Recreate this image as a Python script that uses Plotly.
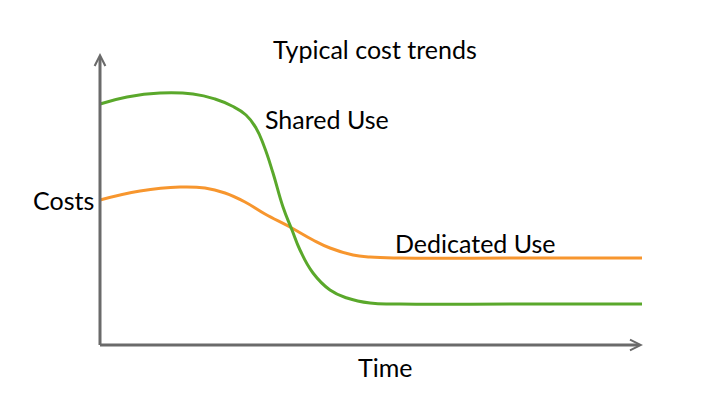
import plotly.graph_objects as go

# Data (arbitrary units: time from axis origin, cost above axis)
time_shared = [0, 27, 60, 93, 115, 132, 146, 156, 164, 173, 183, 192, 200, 213, 230, 247, 270, 300, 420, 542]
cost_shared = [241, 248, 252, 251, 246, 239, 230, 217, 199, 172, 138, 115, 95, 72, 55, 47, 42, 41, 41, 41]

time_dedicated = [0, 40, 80, 105, 125, 145, 165, 190, 213, 230, 253, 270, 300, 420, 542]
cost_dedicated = [145, 154, 158, 157, 152, 143, 131, 118, 105, 97, 90, 88, 87, 87, 87]

title_text = "Typical cost trends"
label_shared = "Shared Use"
label_dedicated = "Dedicated Use"
label_y = "Costs"
label_x = "Time"

GREEN = "#5aa82b"
ORANGE = "#f7962e"
AXIS = "#6a6a6a"
FONT = "Lato"

fig = go.Figure()
fig.add_trace(go.Scatter(x=time_dedicated, y=cost_dedicated, mode="lines",
                         line=dict(color=ORANGE, width=3, shape="spline", smoothing=1.2),
                         hoverinfo="skip"))
fig.add_trace(go.Scatter(x=time_shared, y=cost_shared, mode="lines",
                         line=dict(color=GREEN, width=3, shape="spline", smoothing=1.3),
                         hoverinfo="skip"))

# Axes with open arrowheads
fig.add_annotation(x=0, y=292, ax=0, ay=-1.5, xref="x", yref="y", axref="x", ayref="y",
                   text="", showarrow=True, arrowhead=5, arrowsize=0.7, arrowwidth=3,
                   arrowcolor=AXIS, standoff=0, startstandoff=0)
fig.add_annotation(x=543, y=0, ax=-1.5, ay=0, xref="x", yref="y", axref="x", ayref="y",
                   text="", showarrow=True, arrowhead=5, arrowsize=0.7, arrowwidth=3,
                   arrowcolor=AXIS, standoff=0, startstandoff=0)

def label(txt, x, y):
    fig.add_annotation(x=x, y=y, xref="x", yref="y", text=txt, showarrow=False,
                       font=dict(family=FONT, size=25, color="#000000"),
                       xanchor="center", yanchor="middle")

label(title_text, 275, 296)
label(label_shared, 227, 226)
label(label_dedicated, 375, 102)
label(label_y, -37, 145)
label(label_x, 285, -22)

fig.update_layout(
    width=702, height=402,
    margin=dict(l=0, r=0, t=0, b=0),
    paper_bgcolor="white", plot_bgcolor="white",
    showlegend=False,
    xaxis=dict(range=[-100, 602], visible=False, fixedrange=True),
    yaxis=dict(range=[-57, 345], visible=False, fixedrange=True),
)

fig.write_html("out.html")
